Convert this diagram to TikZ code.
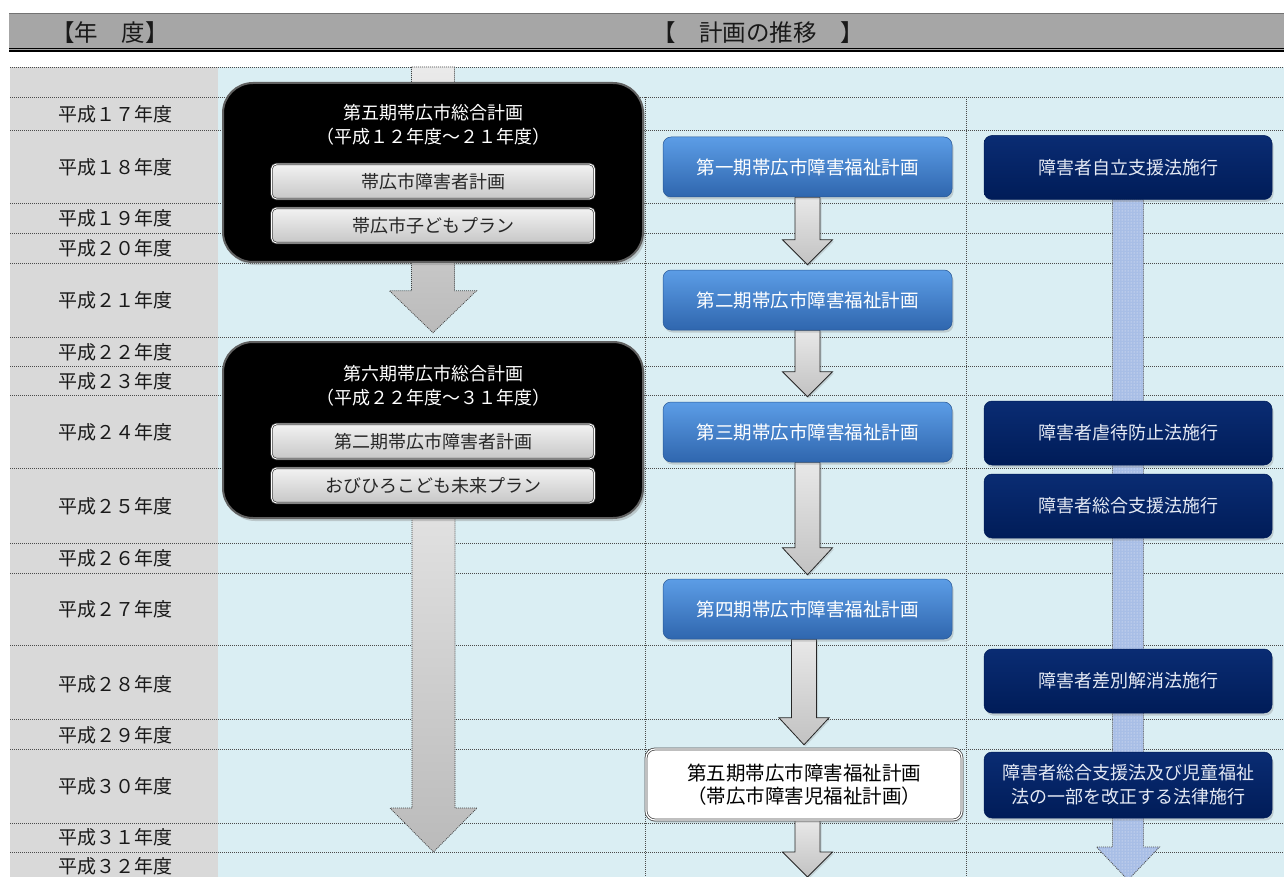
\documentclass[tikz,border=0pt]{standalone}
\usepackage{fontspec}
\newfontfamily\jp{Noto Sans CJK JP}
\usetikzlibrary{shadows,patterns,calc}
\definecolor{hdrgray}{HTML}{A6A6A6}
\definecolor{colgray}{HTML}{D9D9D9}
\definecolor{areablue}{HTML}{DAEEF3}
\definecolor{gridc}{HTML}{4A4A4A}
\definecolor{bluetop}{HTML}{5C9DE6}
\definecolor{bluebot}{HTML}{2F66AE}
\definecolor{navytop}{HTML}{0A2C73}
\definecolor{navybot}{HTML}{001C58}
\definecolor{navytext}{HTML}{E4E9F4}
\definecolor{lightarrow}{HTML}{A8BEE6}
\newcommand\blockarrow[6]{%
  \path[#1] let \p1=(#2), \p2=(#3) in
   (\x2-#4,\y1) -- (\x2-#4,\y2+#6) -- (\x2-#5,\y2+#6) -- (\x2,\y2) --
   (\x2+#5,\y2+#6) -- (\x2+#4,\y2+#6) -- (\x2+#4,\y1) -- cycle;
}
\tikzset{
  gridline/.style={gridc, line width=0.8pt, dash pattern=on 1pt off 1pt},
  yearlabel/.style={font=\jp\fontsize{19}{20}\selectfont, text=black!90},
  hdrtext/.style={font=\jp\fontsize{23.5}{26}\selectfont, text=black!90},
  blackbox/.style={rounded corners=30pt, fill=black, draw=black!62, line width=2pt,
    minimum width=420pt, drop shadow={opacity=0.35, shadow xshift=2pt, shadow yshift=-3pt}},
  boxtitle/.style={font=\jp\fontsize{18}{24}\selectfont, text=white, align=center},
  innerbox/.style={rounded corners=5pt, top color=white!95!black, bottom color=black!22,
    draw=black!75, double=white, double distance=0.9pt, line width=0.7pt,
    minimum width=323pt, minimum height=35pt, font=\jp\fontsize{18}{20}\selectfont, text=black!85},
  bluebox/.style={rounded corners=8pt, top color=bluetop, bottom color=bluebot, draw=bluebot!85!black,
    line width=0.5pt, minimum width=289pt, minimum height=60pt,
    font=\jp\fontsize{18.5}{22}\selectfont, text=white,
    drop shadow={opacity=0.3, shadow xshift=1.5pt, shadow yshift=-2.5pt}},
  whitebox/.style={rounded corners=9pt, fill=white, draw=black!70, double=white, double distance=1.2pt,
    line width=0.8pt, minimum width=316pt, minimum height=71pt, align=center,
    font=\jp\fontsize{19.5}{23}\selectfont, text=black,
    drop shadow={opacity=0.3, shadow xshift=1.5pt, shadow yshift=-2.5pt}},
  navybox/.style={rounded corners=8pt, top color=navytop, bottom color=navybot, draw=navybot,
    line width=0.5pt, minimum width=288pt, minimum height=64pt, align=center,
    font=\jp\fontsize{18}{24}\selectfont, text=navytext,
    drop shadow={opacity=0.3, shadow xshift=1.5pt, shadow yshift=-2.5pt}},
  bigarrow/.style={top color=black!8, bottom color=black!27, draw=black!75, line width=0.7pt,
    dash pattern=on 1pt off 1pt},
  smallarrow/.style={top color=black!9, bottom color=black!24, draw=black!85, line width=0.8pt,
    drop shadow={opacity=0.25, shadow xshift=1.5pt, shadow yshift=-1.5pt}},
  dotarrow/.style={fill=lightarrow, draw=black!70, line width=0.8pt, dash pattern=on 1pt off 1pt},
  dotpat/.style={pattern=dots, pattern color=white!85!lightarrow}
}
\begin{document}
\begin{tikzpicture}[x=1pt,y=-1pt]
\useasboundingbox (0,0) rectangle (1284,877);
\begin{scope}
\clip (0,0) rectangle (1284,877);
\fill[white] (0,0) rectangle (1284,877);
% header
\fill[hdrgray] (9,13) rectangle (1284,50);
\draw[black!55, line width=1pt] (9,13.5) -- (1284,13.5);
\draw[black, line width=0.8pt] (9,48) -- (1284,48);
\draw[black, line width=1.8pt] (9,51) -- (1284,51);
\node[hdrtext] (h1) at (110,33) {【年　度】};
\node[hdrtext] (h2) at (758,33) {【　計画の推移　】};
% body background
\fill[colgray] (10,67) rectangle (218,877);
\fill[areablue] (218,67) rectangle (1284,877);
% grid
\foreach \yy in {67,97,130,203,233,263,337,366,395,468,543,573,645,719,749,823,852}
  \draw[gridline] (10,\yy) -- (1284,\yy);
\draw[gridline] (645,97) -- (645,877);
\draw[gridline] (966,97) -- (966,877);
% year labels
\foreach \lab/\yy/\nm in {１７/114/y17,１８/167/y18,１９/218/y19,２０/248/y20,２１/300/y21,
  ２２/352/y22,２３/381/y23,２４/432/y24,２５/506/y25,２６/558/y26,２７/609/y27,
  ２８/684/y28,２９/735/y29,３０/786/y30,３１/837/y31,３２/866/y32}
  \node[yearlabel] (\nm) at (115,\yy) {平成\lab 年度};
% coordinates for free arrow ends
\coordinate (top1) at (433.5,67);
\coordinate (end2) at (433.5,852);
\coordinate (end5) at (807.5,877);
\coordinate (end6) at (1128,880);
% anchors of the black boxes
\path (433,172.5) node[minimum width=420pt, minimum height=179pt] (b1) {};
\path (433,430) node[minimum width=420pt, minimum height=176pt] (b2) {};
% big arrows column 1
\blockarrow{bigarrow}{top1}{[yshift=9pt]b2.north}{21.5pt}{43.5pt}{42pt}
\blockarrow{bigarrow}{b2.center}{end2}{21.5pt}{43.5pt}{44pt}
% black boxes
\node[blackbox, minimum height=179pt] (k1) at (433,172.5) {};
\node[boxtitle] (t1) at (433,125) {第五期帯広市総合計画\\（平成１２年度～２１年度）};
\node[innerbox] (i1) at (433,181.5) {帯広市障害者計画};
\node[innerbox] (i2) at (433,225.5) {帯広市子どもプラン};
\node[blackbox, minimum height=176pt] (k2) at (433,430) {};
\node[boxtitle] (t2) at (433,386) {第六期帯広市総合計画\\（平成２２年度～３１年度）};
\node[innerbox] (i3) at (433,441.5) {第二期帯広市障害者計画};
\node[innerbox] (i4) at (433,485.5) {おびひろこども未来プラン};
% anchors of column 2 boxes
\path (807.5,167) node[minimum width=289pt, minimum height=60pt] (p1a) {};
\path (807.5,300) node[minimum width=289pt, minimum height=60pt] (p2a) {};
\path (807.5,432) node[minimum width=289pt, minimum height=60pt] (p3a) {};
\path (807.5,609) node[minimum width=289pt, minimum height=60pt] (p4a) {};
\path (804,784.5) node[minimum width=316pt, minimum height=71pt] (p5a) {};
% column 2 arrows
\blockarrow{smallarrow}{p1a.south}{[yshift=5pt]p2a.north}{12.5pt}{25pt}{25pt}
\blockarrow{smallarrow}{p2a.south}{[yshift=5pt]p3a.north}{12.5pt}{25pt}{25pt}
\blockarrow{smallarrow}{p3a.south}{[yshift=4pt]p4a.north}{12.5pt}{25pt}{27pt}
\blockarrow{smallarrow}{p4a.south}{[yshift=4pt]p5a.north}{12.5pt}{25pt}{27pt}
\blockarrow{smallarrow}{p5a.south}{end5}{12.5pt}{25pt}{25pt}
% column 3 arrow
\path (1128,167.5) node[minimum width=288pt, minimum height=64pt] (n1a) {};
\blockarrow{dotarrow}{n1a.south}{end6}{15.5pt}{31.5pt}{33pt}
\blockarrow{dotpat}{n1a.south}{end6}{15.5pt}{31.5pt}{33pt}
% column 2 boxes
\node[bluebox] (p1) at (807.5,167) {第一期帯広市障害福祉計画};
\node[bluebox] (p2) at (807.5,300) {第二期帯広市障害福祉計画};
\node[bluebox] (p3) at (807.5,432) {第三期帯広市障害福祉計画};
\node[bluebox] (p4) at (807.5,609) {第四期帯広市障害福祉計画};
\node[whitebox] (p5) at (804,784.5) {第五期帯広市障害福祉計画\\（帯広市障害児福祉計画）};
% column 3 boxes
\node[navybox] (n1) at (1128,167.5) {障害者自立支援法施行};
\node[navybox] (n2) at (1128,433) {障害者虐待防止法施行};
\node[navybox] (n3) at (1128,506) {障害者総合支援法施行};
\node[navybox] (n4) at (1128,681) {障害者差別解消法施行};
\node[navybox, minimum height=66pt] (n5) at (1128,785) {障害者総合支援法及び児童福祉\\法の一部を改正する法律施行};
\end{scope}
\end{tikzpicture}
\end{document}
